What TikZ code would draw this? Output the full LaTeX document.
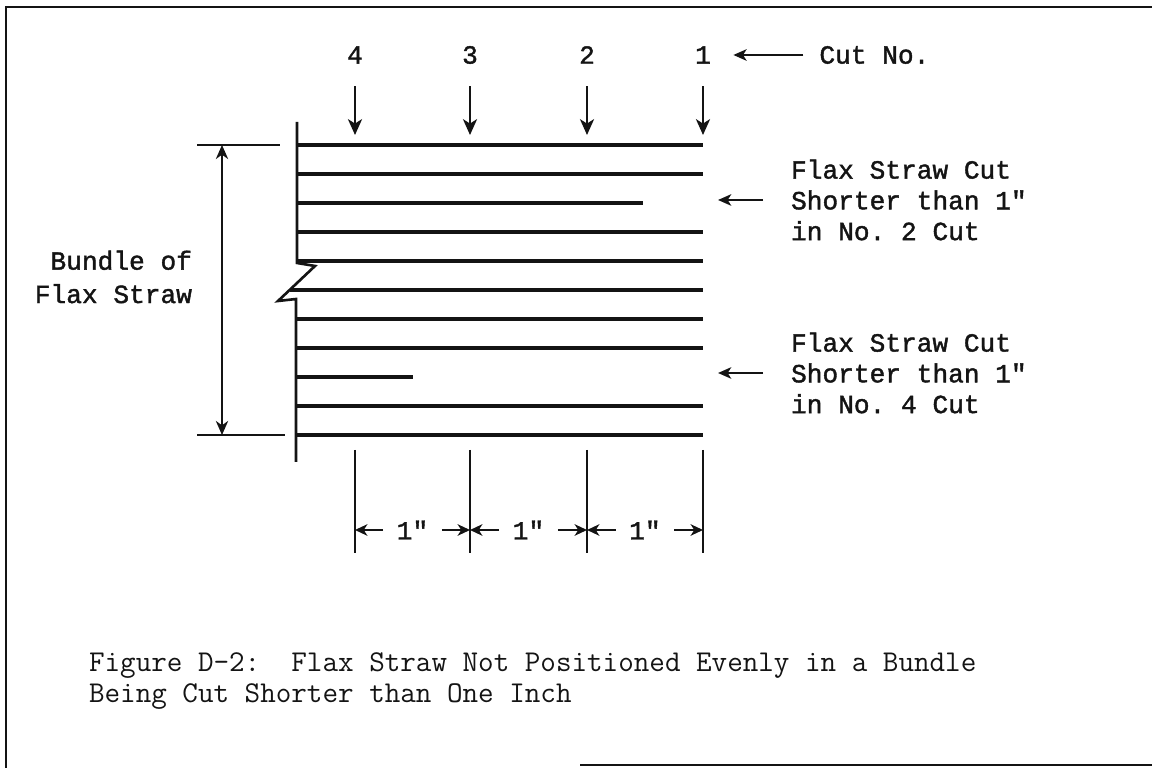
\documentclass[tikz,border=0pt]{standalone}
\usepackage{fontspec}
\newfontfamily\typefont[FakeBold=1.5]{Liberation Mono}
\usetikzlibrary{arrows.meta,positioning}
\definecolor{ink}{RGB}{20,20,20}
\tikzset{
  every picture/.style={color=ink, line width=1.2pt},
  sheet/.style={line width=1.3pt},
  straw/.style={line width=1.8pt},
  bundleedge/.style={line width=1.5pt},
  cutline/.style={line width=1.4pt},
  cutarrow/.style={-{Stealth[length=9pt,width=8pt,inset=2.5pt]}, line width=1.3pt},
  pointer/.style={-{Stealth[length=7.5pt,width=6.5pt,inset=2pt]}, line width=1.4pt},
  dimarrow/.style={-{Stealth[length=7pt,width=6.5pt,inset=2pt]}, line width=1.4pt},
  bundlespan/.style={{Stealth[length=8pt,width=7pt,inset=2.5pt]}-{Stealth[length=8pt,width=7pt,inset=2.5pt]}, line width=1.1pt},
  lbl/.style={font=\typefont\fontsize{14.9}{17.5}\selectfont\frenchspacing, inner sep=0pt, align=left},
  num/.style={lbl, outer sep=4.5mm},
  capt/.style={font=\ttfamily\fontsize{17.2}{17.5}\selectfont\frenchspacing, inner sep=0pt, align=left},
}

\begin{document}
\begin{tikzpicture}[x=0.2mm, y=-0.2mm]
  % four cuts one inch apart across a bundle whose straws are not butted
  % evenly at the left; two straws come out shorter than the inch
  \useasboundingbox (0,0) rectangle (1152,768);
  \draw[sheet] (1152,7) -- (6,7) -- (6,768);
  \draw[sheet] (580,765) -- (1152,765);

  \foreach \i/\a/\b in {0/297/703,1/297/703,2/297/643,3/297/703,4/297/703,5/290/703,6/297/703,7/297/703,8/297/413,9/297/703,10/297/703}
    \draw[straw] (\a,145+29*\i) -- (\b,145+29*\i);
  \draw[bundleedge] (297,122) -- (297,263) -- (315,266) -- (278,301) -- (296,299) -- (296,462);

  \foreach \n/\x in {4/355,3/470,2/587,1/703} {
    \node[num] (c\n) at (\x,55) {\n};
    \coordinate (k\n) at (\x,135);
    \draw[cutarrow] (c\n) -- (k\n);
  }
  \node[lbl, right=17mm of c1] (cutno) {Cut No.};
  \draw[pointer, shorten <=3mm] (cutno) -- (c1);

  \coordinate (top) at (222,145);
  \coordinate (bot) at (222,435);
  \draw[bundleedge] (197,145) -- (280,145);
  \draw[bundleedge] (197,435) -- (285,435);
  \draw[bundlespan] (top) -- (bot);
  \node[lbl, align=right, anchor=east, font=\typefont\fontsize{14.9}{19}\selectfont] (bundle) at (193,277) {Bundle of\\Flax Straw};

  \node[lbl, anchor=west] (short2) at (790,200) {Flax Straw Cut\\Shorter than 1"\\in No. 2 Cut};
  \coordinate (aim2) at (718,200);
  \draw[pointer, shorten <=5.4mm] (short2.west) -- (aim2);
  \node[lbl, anchor=west] (short4) at (790,373) {Flax Straw Cut\\Shorter than 1"\\in No. 4 Cut};
  \coordinate (aim4) at (718,373);
  \draw[pointer, shorten <=5.4mm] (short4.west) -- (aim4);

  \foreach \x [count=\k] in {355,470,587,703} {
    \coordinate (u\k) at (\x,450);
    \coordinate (v\k) at (\x,553);
    \coordinate (w\k) at (\x,530);
    \draw[cutline] (u\k) -- (v\k);
  }
  \foreach \k/\j/\x in {1/2/412.5,2/3/528.5,3/4/645} {
    \node[lbl] (inch\k) at (\x,530) {1"};
    \draw[dimarrow, shorten <=2.5mm] (inch\k) -- (w\k);
    \draw[dimarrow, shorten <=2.5mm] (inch\k) -- (w\j);
  }

  \node[capt, anchor=north west] (caption) at (88,652) {Figure D-2:~~Flax Straw Not Positioned Evenly in a Bundle\\Being Cut Shorter than One Inch};
\end{tikzpicture}
\end{document}
